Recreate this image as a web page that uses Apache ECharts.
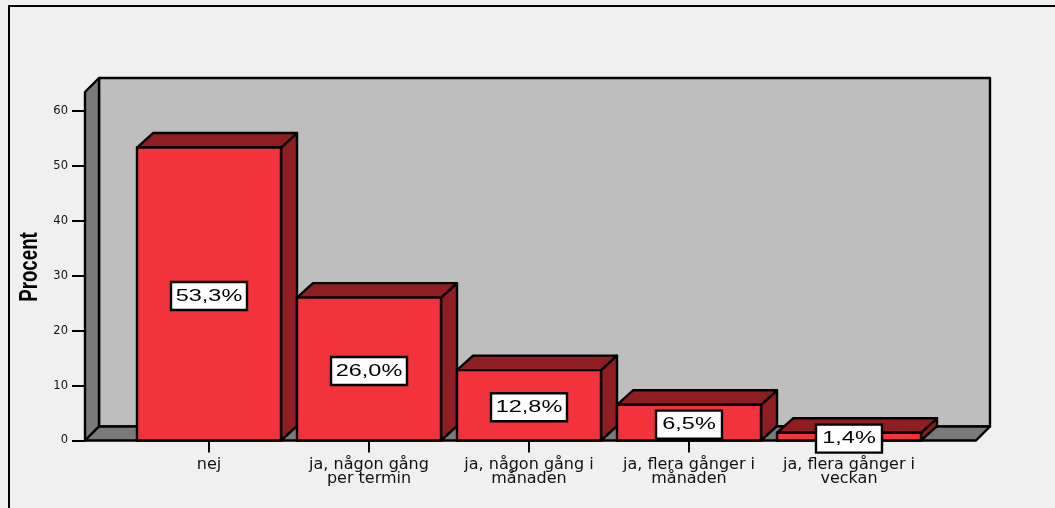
<!DOCTYPE html>
<html><head><meta charset="utf-8">
<style>html,body{margin:0;padding:0;background:#fff}#c{width:1055px;height:508px}</style>
<script src="https://cdn.jsdelivr.net/npm/echarts@6/dist/echarts.min.js"></script>
</head><body><div id="c"></div>
<script>
const categories = ['nej','ja, någon gång\nper termin','ja, någon gång i\nmånaden','ja, flera gånger i\nmånaden','ja, flera gånger i\nveckan'];
const percentValues = [53.3,26.0,12.8,6.5,1.4];
const percentLabels = ['53,3%','26,0%','12,8%','6,5%','1,4%'];
const yTicks = {min:0,max:63.4,interval:10};
const yTitle = 'Procent';

const RED='#F2333B', DARK='#8E1E22', WALL='#BEBEBE', SIDE='#7A7A7A', BG='#F0F0F0', INK='#000';
const DX=14, DY=14, BDX=16, BDY=14.5, LW=2.4;
const st=(f)=>({fill:f,stroke:INK,lineWidth:LW,lineJoin:'round'});

function renderWall(params,api){
  if(params.dataIndex!==0) return null;
  const L=85,R=976; // front floor edges extend beyond the first and last bands
  const b=api.coord([0,0])[1], t=api.coord([0,yTicks.max])[1];
  const poly=(pts,f)=>({type:'polygon',shape:{points:pts},style:st(f)});
  return {type:'group',children:[
    poly([[L+DX,t-DY],[R+DX,t-DY],[R+DX,b-DY],[L+DX,b-DY]],WALL),
    poly([[L,t],[L+DX,t-DY],[L+DX,b-DY],[L,b]],SIDE),
    poly([[L,b],[L+DX,b-DY],[R+DX,b-DY],[R,b]],SIDE)
  ]};
}
function renderBar(params,api){
  const i=api.value(0), v=api.value(1);
  const p=api.coord([i,v]), z=api.coord([i,0]);
  const w=api.size([1,0])[0]*0.9;
  const x0=p[0]-w/2,x1=p[0]+w/2,yt=p[1],yb=z[1];
  const poly=(pts,f)=>({type:'polygon',shape:{points:pts},style:st(f)});
  const cy=(yt+yb)/2+2, bw=(percentLabels[i].length>4?76:66), bh=28;
  return {type:'group',children:[
    poly([[x1,yb],[x1+BDX,yb-BDY],[x1+BDX,yt-BDY],[x1,yt]],DARK),
    poly([[x0,yt],[x0+BDX,yt-BDY],[x1+BDX,yt-BDY],[x1,yt]],DARK),
    {type:'rect',shape:{x:x0,y:yt,width:w,height:yb-yt},style:st(RED)},
    {type:'rect',shape:{x:p[0]-bw/2,y:cy-bh/2,width:bw,height:bh},style:{fill:'#fff',stroke:INK,lineWidth:LW}},
    {type:'text',x:p[0],y:cy,scaleX:1.38,scaleY:1,style:{text:percentLabels[i],font:'17px "Liberation Sans"',fill:'#000',align:'center',verticalAlign:'middle'}}
  ]};
}
const chart=echarts.init(document.getElementById('c'),null,{renderer:'canvas'});
chart.setOption({
  animation:false,
  backgroundColor:BG,
  graphic:[
    {type:'polyline',silent:true,shape:{points:[[9,508],[9,6],[1055,6]]},style:{fill:'none',stroke:'#000',lineWidth:2}},
    {type:'text',silent:true,x:30,y:267,rotation:Math.PI/2,scaleX:0.72,style:{text:yTitle,font:'bold 26px "Liberation Sans"',fill:'#000',align:'center',verticalAlign:'middle'}}
  ],
  grid:{left:129,top:92,width:800,height:348.5,outerBoundsMode:'none'},
  xAxis:{type:'category',data:categories,boundaryGap:true,z:10,
    axisLine:{show:false},
    axisTick:{show:true,alignWithLabel:true,length:12,lineStyle:{color:'#000',width:2}},
    axisLabel:{interval:0,fontFamily:'DejaVu Sans',fontSize:16,lineHeight:14,color:'#111',margin:17,hideOverlap:false}},
  yAxis:{type:'value',min:yTicks.min,max:yTicks.max,interval:yTicks.interval,offset:44,position:'left',z:10,
    splitLine:{show:false},axisLine:{show:false},
    axisTick:{show:true,length:13,lineStyle:{color:'#000',width:2}},
    axisLabel:{fontFamily:'DejaVu Sans',fontSize:11.5,color:'#111',margin:17,showMaxLabel:false,
      formatter:(v)=>v%10===0?String(v):''}},
  series:[
    {type:'custom',renderItem:renderWall,clip:false,z:1,data:percentValues.map((v,i)=>[i,v]),encode:{x:0,y:1},silent:true},
    {type:'custom',renderItem:renderBar,clip:false,z:20,data:percentValues.map((v,i)=>[i,v]),encode:{x:0,y:1}}
  ]
});
</script></body></html>
